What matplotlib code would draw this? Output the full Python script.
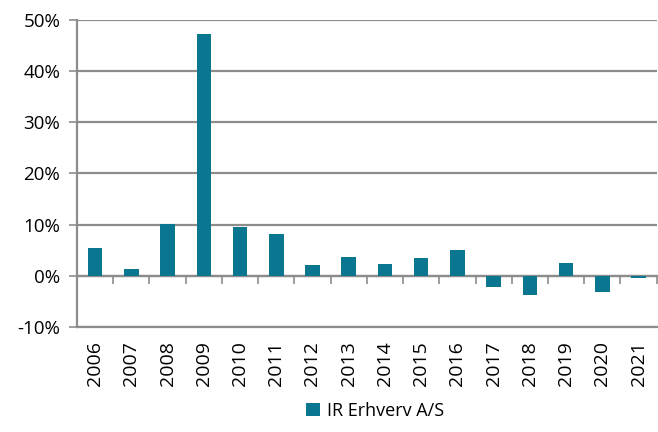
import matplotlib.pyplot as plt
from matplotlib.ticker import FuncFormatter

years = [str(y) for y in range(2006, 2022)]
values = [5.5, 1.4, 10.1, 47.3, 9.5, 8.2, 2.1, 3.6, 2.4, 3.4, 5.1, -2.2, -3.8, 2.6, -3.2, -0.4]
series_name = "IR Erhverv A/S"

plt.rcParams['font.family'] = ['Open Sans', 'DejaVu Sans']
grey = "#8c8c8c"

fig = plt.figure(figsize=(6.58, 4.32), dpi=100)
ax = fig.add_axes([0.117, 0.243, 0.881, 0.711])

x = list(range(len(years)))
ax.bar(x, values, width=0.4, color="#0a768f", zorder=3, label=series_name)

ax.set_ylim(-10, 50)
ax.set_xlim(-0.5, len(years) - 0.5)
ax.set_yticks(range(-10, 51, 10))
ax.yaxis.set_major_formatter(FuncFormatter(lambda v, p: f"{v:.0f}%"))
ax.grid(axis='y', color=grey, linewidth=1.6, zorder=0)
ax.tick_params(axis='y', labelsize=13.5, length=6, width=1.2, color=grey, pad=6)

ax.set_xticks(x)
ax.set_xticklabels(years, rotation=90, fontsize=14)
ax.tick_params(axis='x', length=0, pad=10)

for s in ['top', 'right']:
    ax.spines[s].set_visible(False)
ax.spines['left'].set_color(grey)
ax.spines['left'].set_linewidth(1.6)
ax.spines['bottom'].set_color(grey)
ax.spines['bottom'].set_linewidth(1.6)

# zero axis with tick marks between categories
zero = ax.secondary_xaxis(10 / 60)
zero.set_xticks([i + 0.5 for i in x])
zero.set_xticklabels([])
zero.tick_params(direction='out', length=6, width=1.2, color=grey)
zero.spines['bottom'].set_color(grey)
zero.spines['bottom'].set_linewidth(1.6)

fig.legend(loc='lower center', bbox_to_anchor=(0.57, -0.01), frameon=False,
           fontsize=13, handlelength=0.75, handleheight=0.75, handletextpad=0.4)

fig.savefig("out.png", dpi=100)
